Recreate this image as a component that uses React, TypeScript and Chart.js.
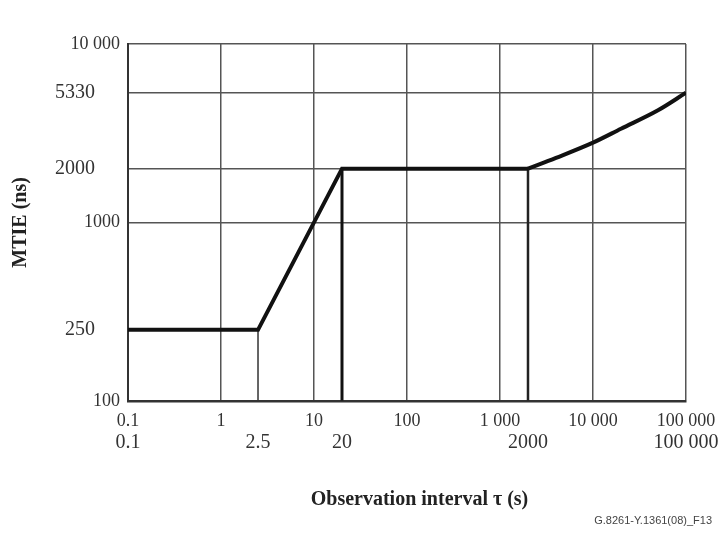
import React, { useEffect, useRef } from "react";
import { Chart, registerables } from "chart.js";

Chart.register(...registerables);

// ---- data ----
const maskTau = [0.1, 2.5, 20, 2000];
const maskMtie = [250, 250, 2000, 2000];
const curveTau = [2000, 4000, 10000, 20000, 50000, 100000];
const curveMtie = [2000, 2300, 2800, 3350, 4250, 5330];
const dropTau = [2.5, 20, 2000];
const dropTop = [250, 2000, 2000];
const yMin = 100;
const yMax = 10000;
const xMin = 0.1;
const xMax = 100000;
const yTickValues = [100, 250, 1000, 2000, 5330, 10000];
const yTickLabels = ["100", "250", "1000", "2000", "5330", "10 000"];
const ySpecial = [false, true, false, true, true, false];
const xTickValues = [0.1, 1, 10, 100, 1000, 10000, 100000];
const xTickLabels = ["0.1", "1", "10", "100", "1 000", "10 000", "100 000"];
const x2TickValues = [0.1, 2.5, 20, 2000, 100000];
const x2TickLabels = ["0.1", "2.5", "20", "2000", "100 000"];
const yTitle = "MTIE (ns)";
const xTitle = "Observation interval \u03c4 (s)";
const footer = "G.8261-Y.1361(08)_F13";

// ---- styles ----
const SERIF = "'Liberation Serif', 'Times New Roman', serif";
const SANS = "'Liberation Sans', Arial, sans-serif";
const dropWidths = [1.5, 3, 2.5];
const dropColors = ["#333", "#111", "#222"];

export default function App() {
  const ref = useRef<HTMLCanvasElement | null>(null);

  useEffect(() => {
    if (!ref.current) return;
    const datasets: any[] = [
      {
        data: maskTau.map((t, i) => ({ x: t, y: maskMtie[i] })),
        borderColor: "#111",
        borderWidth: 4,
        pointRadius: 0,
        fill: false,
        xAxisID: "x",
        yAxisID: "y",
      },
      {
        data: curveTau.map((t, i) => ({ x: t, y: curveMtie[i] })),
        borderColor: "#111",
        borderWidth: 4,
        pointRadius: 0,
        fill: false,
        cubicInterpolationMode: "monotone",
        xAxisID: "x",
        yAxisID: "y",
      },
      ...dropTau.map((t, i) => ({
        data: [
          { x: t, y: yMin },
          { x: t, y: dropTop[i] },
        ],
        borderColor: dropColors[i],
        borderWidth: dropWidths[i],
        pointRadius: 0,
        fill: false,
        xAxisID: "x",
        yAxisID: "y",
      })),
    ];

    const chart = new Chart(ref.current, {
      type: "line",
      data: { datasets },
      options: {
        responsive: false,
        animation: false,
        events: [],
        layout: { padding: { top: 44, right: 10, left: 0, bottom: 0 } },
        plugins: {
          legend: { display: false },
          tooltip: { enabled: false },
          subtitle: {
            display: true,
            text: footer,
            position: "bottom",
            align: "end",
            color: "#444",
            font: { family: SANS, size: 11, weight: "normal" },
            padding: { top: 0, bottom: 5 },
          },
        },
        scales: {
          y: {
            type: "logarithmic",
            position: "left",
            min: yMin,
            max: yMax,
            afterBuildTicks: (s: any) => {
              s.ticks = yTickValues.map((v) => ({ value: v }));
            },
            afterFit: (s: any) => {
              s.width = 128;
            },
            ticks: {
              padding: 8,
              color: "#333",
              font: (ctx: any) => ({ family: SERIF, size: ySpecial[ctx.index] ? 20 : 18 }),
              callback: (_v: any, i: number) =>
                ySpecial[i] ? yTickLabels[i] + "     " : yTickLabels[i],
            },
            grid: {
              drawTicks: false,
              lineWidth: 1.5,
              color: (ctx: any) =>
                ctx.tick && ctx.tick.value === 250 ? "rgba(0,0,0,0)" : "#555",
            },
            border: { color: "#333", width: 2 },
            title: {
              display: true,
              text: yTitle,
              color: "#222",
              font: { family: SERIF, size: 20, weight: "bold" },
              padding: { top: 9, bottom: 0 },
            },
          },
          y2: {
            type: "linear",
            position: "right",
            display: true,
            afterFit: (s: any) => {
              s.width = 26;
            },
            ticks: { display: false },
            grid: { display: false },
            border: { display: false },
          },
          x: {
            type: "logarithmic",
            position: "bottom",
            min: xMin,
            max: xMax,
            afterBuildTicks: (s: any) => {
              s.ticks = xTickValues.map((v) => ({ value: v }));
            },
            afterFit: (s: any) => {
              s.height = 28;
            },
            ticks: {
              autoSkip: false,
              maxRotation: 0,
              padding: 0,
              color: "#333",
              font: { family: SERIF, size: 18, lineHeight: 2.3 },
              callback: (_v: any, i: number) => xTickLabels[i],
            },
            grid: { drawTicks: false, lineWidth: 1.5, color: "#555" },
            border: { color: "#333", width: 2.5 },
          },
          x2: {
            type: "logarithmic",
            position: "bottom",
            min: xMin,
            max: xMax,
            afterBuildTicks: (s: any) => {
              s.ticks = x2TickValues.map((v) => ({ value: v }));
            },
            afterFit: (s: any) => {
              s.height = 86;
            },
            ticks: {
              autoSkip: false,
              maxRotation: 0,
              padding: 0,
              color: "#333",
              font: { family: SERIF, size: 20, lineHeight: 1.4 },
              callback: (_v: any, i: number) => x2TickLabels[i],
            },
            grid: { display: false, drawTicks: false },
            border: { display: false },
            title: {
              display: true,
              text: "     " + xTitle,
              color: "#222",
              font: { family: SERIF, size: 20, weight: "bold" },
              padding: { top: 0, bottom: 3 },
            },
          },
        },
      } as any,
    });
    return () => chart.destroy();
  }, []);

  return (
    <div style={{ position: "absolute", left: 0, top: 0, width: 722, height: 533, background: "#fff" }}>
      <canvas ref={ref} width={722} height={533} />
    </div>
  );
}
